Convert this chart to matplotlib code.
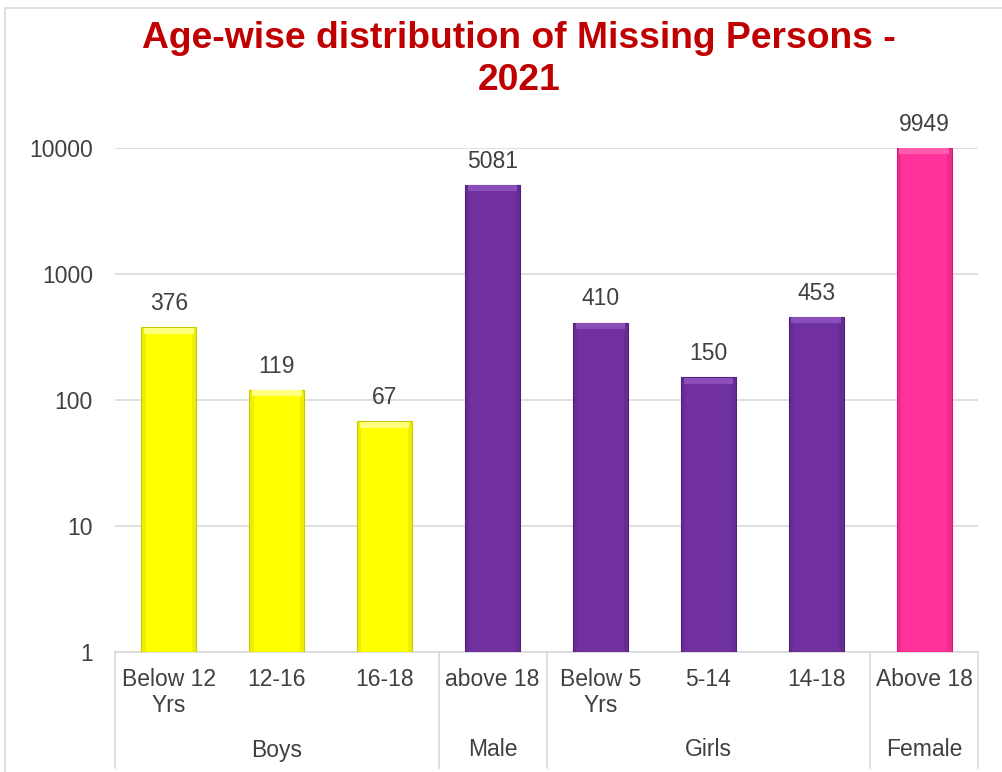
import matplotlib.pyplot as plt
import numpy as np

plt.rcParams['font.family'] = ['Liberation Sans', 'DejaVu Sans']

# data
categories = ['Below 12\nYrs', '12-16', '16-18', 'above 18', 'Below 5\nYrs', '5-14', '14-18', 'Above 18']
counts     = [376, 119, 67, 5081, 410, 150, 453, 9949]
groups     = ['Boys', 'Male', 'Girls', 'Female']
group_size = [3, 1, 3, 1]

group_colors = {'Boys': ('#FFFF00', '#C9C900', '#FFFF80'),
                'Male': ('#7030A0', '#53207A', '#8A4FB8'),
                'Girls': ('#7030A0', '#53207A', '#8A4FB8'),
                'Female': ('#FF3399', '#D01C78', '#FF5CAD')}

bar_colors = []
for g, n in zip(groups, group_size):
    bar_colors += [group_colors[g]] * n

fig = plt.figure(figsize=(10.02, 7.72), dpi=100)
ax = fig.add_axes([115/1002, 120/772, 863/1002, 504/772])

x = np.arange(len(categories))
width = 0.51
px_per_decade = 504 / 4.0

for xi, v, (main, dark, light) in zip(x, counts, bar_colors):
    ax.bar(xi, v, width=width, bottom=1, color=main, edgecolor=dark, linewidth=0.8, zorder=3)
    # darker side strips for a bevelled look
    for side in (-1, 1):
        ax.bar(xi + side * (width/2 - 0.02), v, width=0.04, bottom=1, color=dark,
               alpha=0.3, linewidth=0, zorder=4)
    # lighter cap on top
    cap = 10 ** (-6 / px_per_decade)
    ax.bar(xi, v - v*cap, width=width - 0.05, bottom=v*cap, color=light, linewidth=0, zorder=4)
    ax.annotate('%d' % v, (xi, v), xytext=(0, 9), textcoords='offset points',
                ha='center', va='bottom', fontsize=16.5, color='#404040')

ax.set_yscale('log')
ax.set_ylim(1, 10000)
ax.set_xlim(-0.5, len(categories) - 0.5)
ax.set_yticks([1, 10, 100, 1000, 10000])
ax.set_yticklabels(['1', '10', '100', '1000', '10000'])
ax.yaxis.set_minor_locator(plt.NullLocator())
ax.tick_params(axis='y', length=0, pad=16, labelsize=16.5, labelcolor='#404040')
ax.set_xticks([])
ax.grid(axis='y', color='#D9D9D9', linewidth=1.2, zorder=0)
for s in ['top', 'right', 'left']:
    ax.spines[s].set_visible(False)
ax.spines['bottom'].set_color('#D9D9D9')
ax.spines['bottom'].set_linewidth(1.2)

# two-level category axis
trans = ax.get_xaxis_transform()
for xi, lab in zip(x, categories):
    ax.text(xi, -16/504, lab, transform=trans, ha='center', va='top',
            fontsize=16.5, color='#404040', linespacing=1.15)

edges = np.concatenate([[0], np.cumsum(group_size)]) - 0.5
for e in edges:
    ax.plot([e, e], [0, -116/504], transform=trans, color='#D9D9D9',
            linewidth=1.2, clip_on=False)
for g, a, b in zip(groups, edges[:-1], edges[1:]):
    ax.text((a + b) / 2, -98/504, g, transform=trans, ha='center', va='center',
            fontsize=16.5, color='#404040')

fig.text(0.518, 1 - 38/772, 'Age-wise distribution of Missing Persons -', ha='center', va='center',
         fontsize=26.8, fontweight='bold', color='#C00000')
fig.text(0.518, 1 - 80/772, '2021', ha='center', va='center',
         fontsize=26.8, fontweight='bold', color='#C00000')

# light frame round the chart
fig.patches.append(plt.Rectangle((5/1002, -0.01), 1.0, 1 - 8/772 + 0.01, transform=fig.transFigure,
                                 fill=False, edgecolor='#D9D9D9', linewidth=1.2))

fig.savefig('out.png', dpi=100)
